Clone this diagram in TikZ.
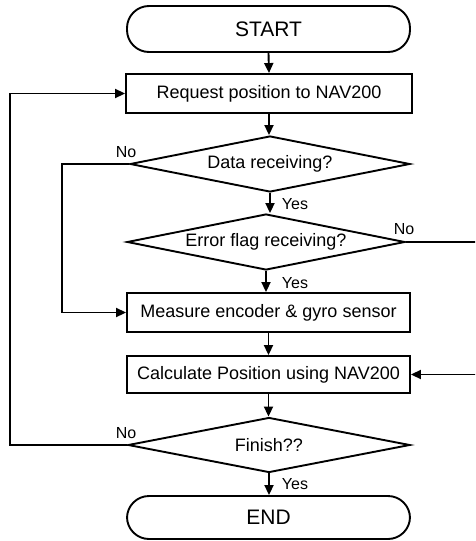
\documentclass[tikz,border=0pt]{standalone}
\usepackage{fontspec}
\setmainfont{Liberation Sans}
\usetikzlibrary{arrows.meta,shapes.geometric}

\tikzset{
  flow/.style={line width=1.9pt, draw=black},
  arr/.style={flow, -{Triangle[length=10pt,width=9pt]}},
  terminal/.style={draw, line width=1.9pt, rounded corners=22pt, inner sep=0pt,
    font=\fontsize{21}{23}\selectfont},
  procbox/.style={draw, line width=1.9pt, inner sep=0pt, minimum width=283pt,
    font=\fontsize{18}{20}\selectfont},
  decision/.style={draw, diamond, aspect=5, line width=1.9pt, inner sep=0pt,
    font=\fontsize{18}{20}\selectfont},
  lbl/.style={inner sep=0pt, font=\fontsize{16}{18}\selectfont},
}

\begin{document}
\begin{tikzpicture}[x=1pt, y=-1pt]
  \clip (0,0) rectangle (475,541);

  % terminals
  \node[terminal, minimum width=283pt, minimum height=46pt] (start) at (268.5,29) {START};
  \node[terminal, minimum width=283pt, minimum height=43pt] (end) at (268.5,517.5) {END};

  % process boxes
  \node[procbox, minimum width=286pt, minimum height=39pt] (req) at (269,93.5) {Request position to NAV200};
  \node[procbox, minimum height=39pt] (meas) at (268.5,312.5) {Measure encoder \& gyro sensor};
  \node[procbox, minimum height=37pt] (calc) at (268.5,374.5) {Calculate Position using NAV200};

  % decisions
  \node[decision, minimum width=280pt, minimum height=56pt] (data) at (270,164) {Data receiving?};
  \node[decision, minimum width=278pt, minimum height=56pt] (err) at (266,242) {Error flag receiving?};
  \node[decision, minimum width=282pt, minimum height=55pt] (fin) at (269,445) {Finish??};

  % branch labels
  \node[lbl] (noData) at (126,152) {No};
  \node[lbl] (yesData) at (295,204) {Yes};
  \node[lbl] (noErr) at (404,229) {No};
  \node[lbl] (yesErr) at (295,283) {Yes};
  \node[lbl] (noFin) at (126,433) {No};
  \node[lbl] (yesFin) at (295,484) {Yes};

  % bend points of the loop connectors
  \coordinate (loopL) at (10,445);
  \coordinate (loopM) at (62,164);
  \coordinate (loopR) at (477,242);

  % main flow
  \draw[arr] (start.south) -- (req.north);
  \draw[arr] (req.south) -- (req.south |- data.north);
  \draw[arr] (data.south) -- (data.south |- err.north);
  \draw[arr] (err.south) -- (err.south |- meas.north);
  \draw[arr] (meas.south) -- (calc.north);
  \draw[arr] (calc.south) -- (calc.south |- fin.north);
  \draw[arr] (fin.south) -- (fin.south |- end.north);

  % side branches
  \draw[arr] (data.west) -- (loopM) |- (meas.west);
  \draw[arr] (err.east) -- (loopR) |- (calc.east);
  \draw[arr] (fin.west) -- (loopL) |- (req.west);
\end{tikzpicture}
\end{document}
